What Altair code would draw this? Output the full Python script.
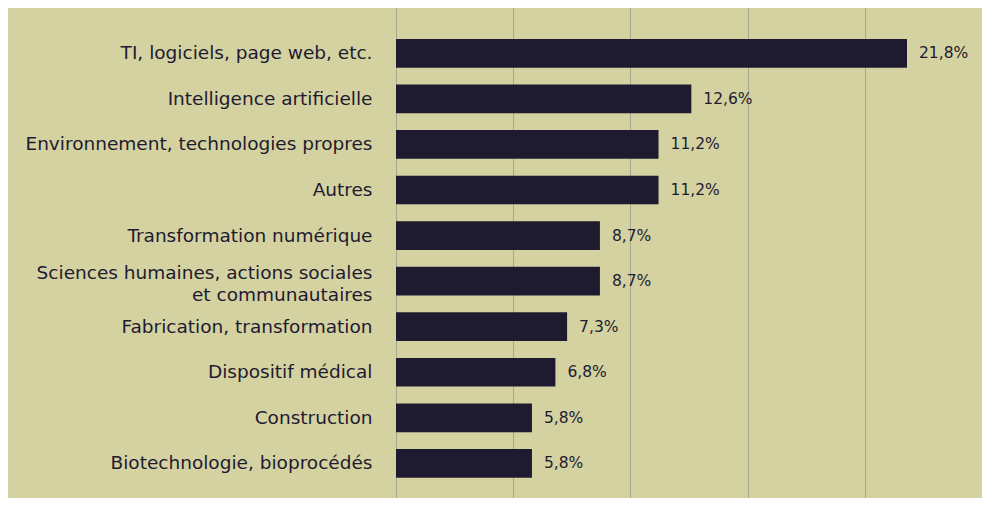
import altair as alt
import pandas as pd

categories = [
    "TI, logiciels, page web, etc.",
    "Intelligence artificielle",
    "Environnement, technologies propres",
    "Autres",
    "Transformation numérique",
    "Sciences humaines, actions sociales|et communautaires",
    "Fabrication, transformation",
    "Dispositif médical",
    "Construction",
    "Biotechnologie, bioprocédés",
]
values = [21.8, 12.6, 11.2, 11.2, 8.7, 8.7, 7.3, 6.8, 5.8, 5.8]
value_labels = ["21,8%", "12,6%", "11,2%", "11,2%", "8,7%", "8,7%", "7,3%", "6,8%", "5,8%", "5,8%"]
grid_ticks = [0, 5, 10, 15, 20, 25]

df = pd.DataFrame({"cat": categories, "val": values, "lab": value_labels})

BG = "#d4d2a0"
BAR = "#1e1b31"
TXT = "#1e1b30"
FONT = "DejaVu Sans"

x = alt.X(
    "val:Q",
    scale=alt.Scale(domain=[0, 25], nice=False, zero=True),
    axis=alt.Axis(
        values=grid_ticks, labels=False, ticks=False, domain=False, title=None,
        grid=True, gridColor="#a8a68c", gridWidth=1,
    ),
)
y = alt.Y(
    "cat:N",
    sort=categories,
    scale=alt.Scale(paddingInner=0.37, paddingOuter=0.5625, align=0.604),
    axis=alt.Axis(
        title=None, ticks=False, domain=False, grid=False,
        labelPadding=24, labelFontSize=18.5, labelFont=FONT, labelColor=TXT,
        labelLimit=400, labelLineHeight=22,
        labelExpr="split(datum.label, '|')",
        labelOffset=alt.condition("indexof(datum.value, '|') >= 0", alt.value(-8), alt.value(0)),
        minExtent=388, maxExtent=388,
    ),
)

bars = alt.Chart(df).mark_bar(color=BAR).encode(x=x, y=y)
texts = alt.Chart(df).mark_text(
    align="left", baseline="middle", dx=12, fontSize=15.5, font=FONT, color=TXT
).encode(x="val:Q", y=alt.Y("cat:N", sort=categories), text="lab:N")

chart = (
    alt.layer(bars, texts)
    .properties(width=586, height=490, background=BG, padding=0)
    .configure_view(stroke=None)
)

chart.save("out.html", embed_options={"renderer": "svg", "actions": False})
